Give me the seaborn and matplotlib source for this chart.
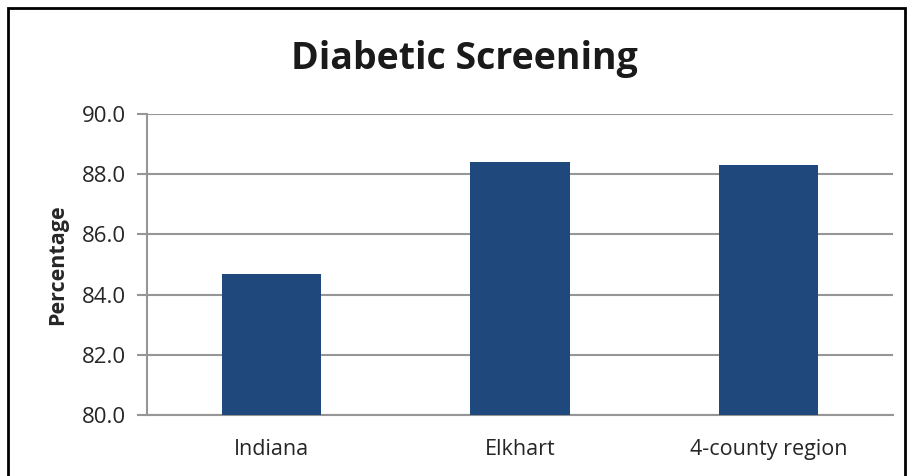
import matplotlib
matplotlib.use("Agg")
import matplotlib.pyplot as plt
import seaborn as sns
import pandas as pd

# data
regions = ["Indiana", "Elkhart", "4-county region"]
percentages = [84.7, 88.4, 88.3]
y_ticks = [80.0, 82.0, 84.0, 86.0, 88.0, 90.0]

bar_color = "#1F497D"
grid_color = "#969696"

sns.set_theme(style="white")
plt.rcParams["font.family"] = ["Open Sans", "DejaVu Sans"]

df = pd.DataFrame({"region": regions, "pct": percentages})

fig = plt.figure(figsize=(9.08, 4.76), dpi=100)
ax = fig.add_axes([147 / 908, 61 / 476, 746 / 908, 301 / 476])

sns.barplot(data=df, x="region", y="pct", color=bar_color, width=0.4,
            saturation=1, linewidth=0, ax=ax, zorder=3)

ax.set_ylim(80, 90)
ax.set_xlim(-0.5, 2.5)
ax.set_yticks(y_ticks)
ax.set_yticklabels([f"{t:.1f}" for t in y_ticks], fontsize=16, color="#262626")
ax.tick_params(axis="x", labelsize=15.5, colors="#262626", length=0, pad=17)
ax.tick_params(axis="y", length=7, width=1.5, color=grid_color, pad=8, left=True)
ax.yaxis.grid(True, color=grid_color, linewidth=1.5, zorder=0)
ax.set_axisbelow(True)

for side in ["top", "right"]:
    ax.spines[side].set_visible(False)
ax.spines["left"].set_color(grid_color)
ax.spines["left"].set_linewidth(1.5)
ax.spines["bottom"].set_color(grid_color)
ax.spines["bottom"].set_linewidth(1.5)

ax.set_xlabel("")
ax.set_ylabel("Percentage", fontsize=15.5, fontweight="bold", labelpad=10)
fig.text(464 / 908, 0.877, "Diabetic Screening", ha="center", va="center",
         fontsize=27, fontweight="bold", color="#1a1a1a")

# outer frame around the chart area
frame = plt.Rectangle((8 / 908, -0.05), 897 / 908, 1.05 - 8 / 476, transform=fig.transFigure,
                      fill=False, edgecolor="black", linewidth=2)
fig.patches.append(frame)

fig.savefig("out.png", dpi=100)
